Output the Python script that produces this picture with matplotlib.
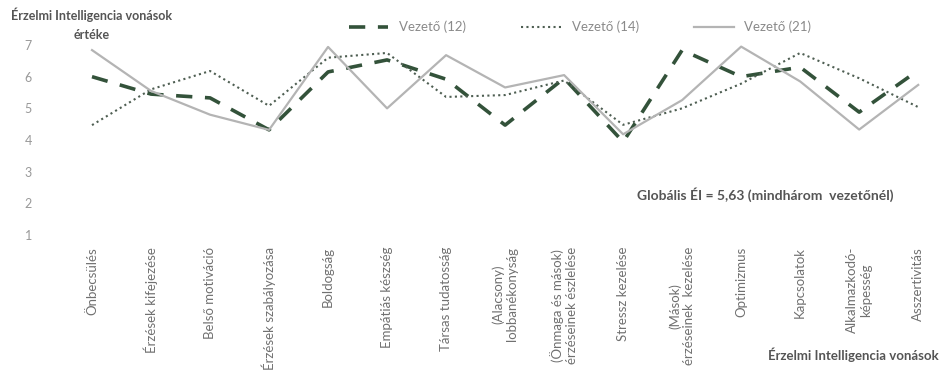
import numpy as np
import matplotlib
matplotlib.use('Agg')
import matplotlib.pyplot as plt

plt.rcParams['font.family'] = ['Lato', 'DejaVu Sans']

# categories (EI traits)
traits = ['Önbecsülés', 'Érzések kifejezése', 'Belső motiváció', 'Érzések szabályozása',
          'Boldogság', 'Empátiás készség', 'Társas tudatosság', '(Alacsony)\nlobbanékonyság',
          '(Önmaga és mások)\nérzéseinek észlelése', 'Stressz kezelése',
          '(Mások)\nérzéseinek  kezelése', 'Optimizmus', 'Kapcsolatok',
          'Alkalmazkodó-\nképesség', 'Asszertivitás']

# values
vez12 = [6.0, 5.45, 5.33, 4.32, 6.15, 6.53, 5.92, 4.47, 5.95, 3.94, 6.84, 6.0, 6.3, 4.88, 6.2]
vez14 = [4.47, 5.6, 6.18, 5.08, 6.6, 6.75, 5.36, 5.42, 5.88, 4.48, 5.0, 5.78, 6.75, 5.95, 5.04]
vez21 = [6.84, 5.55, 4.8, 4.32, 6.94, 5.0, 6.68, 5.66, 6.05, 4.18, 5.26, 6.95, 5.85, 4.33, 5.74]

yticks = [1, 2, 3, 4, 5, 6, 7]

fig = plt.figure(figsize=(9.4, 3.7), dpi=100)
ax = fig.add_axes([62.5 / 940, 1 - 241.3 / 370, (930 - 62.5) / 940, (241.3 - 38.7) / 370])

x = np.arange(len(traits))
ax.plot(x, vez12, color='#33523a', lw=2.6, dashes=(4.5, 3.5), label='Vezető (12)')
ax.plot(x, vez14, color='#4e5e52', lw=1.5, ls=(0, (1, 1.6)), label='Vezető (14)')
ax.plot(x, vez21, color='#b4b4b4', lw=1.6, label='Vezető (21)')

ax.set_xlim(-0.5, 14.2)
ax.set_ylim(0.8, 7.2)
ax.set_yticks(yticks)
ax.set_xticks(x)
ax.set_xticklabels(traits, rotation=90, ha='center', va='top', multialignment='center',
                   fontsize=9.5, color='#707070')
ax.tick_params(axis='y', length=0, labelsize=9, labelcolor='#999999', pad=22)
ax.tick_params(axis='x', length=0, pad=4)
for s in ax.spines.values():
    s.set_visible(False)

fig.text(92 / 940, 1 - 24 / 370, 'Érzelmi Intelligencia vonások\nértéke', ha='center', va='center',
         fontsize=9, fontweight='bold', color='#555555', linespacing=1.7)
fig.text(765 / 940, 1 - 195 / 370, 'Globális ÉI = 5,63 (mindhárom  vezetőnél)', ha='center',
         va='center', fontsize=10, fontweight='bold', color='#555555')
fig.text(939 / 940, 1 - 355 / 370, 'Érzelmi Intelligencia vonások', ha='right', va='center',
         fontsize=9.5, fontweight='bold', color='#555555')

leg = fig.legend(loc='center', bbox_to_anchor=(580 / 940, 1 - 27 / 370), ncol=3, frameon=False,
                 fontsize=9.5, handlelength=3, columnspacing=4.2, handletextpad=0.8)
for t in leg.get_texts():
    t.set_color('#8a8a8a')

fig.savefig('out.png', dpi=100, facecolor='white')
